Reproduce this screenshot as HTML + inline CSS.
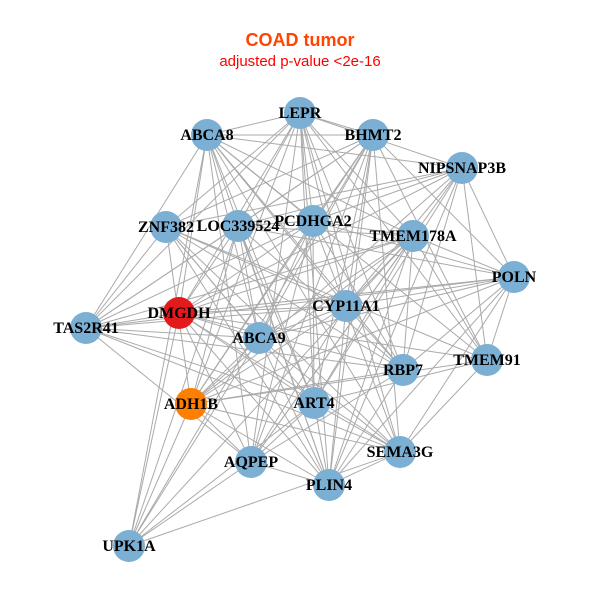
<!DOCTYPE html>
<html><head><meta charset="utf-8"><style>
body{margin:0;background:#fff;width:600px;height:600px;overflow:hidden}
svg text{font-family:"Liberation Serif",serif;font-weight:bold;font-size:16px}
</style></head><body>
<svg id="s" width="600" height="600" xmlns="http://www.w3.org/2000/svg">
<rect width="600" height="600" fill="#fff"/>
<text x="300" y="46" text-anchor="middle" style="font-family:'Liberation Sans',sans-serif;font-size:18px;font-weight:bold" fill="#FF4500">COAD tumor</text>
<text x="300" y="66" text-anchor="middle" style="font-family:'Liberation Sans',sans-serif;font-size:15px;font-weight:normal" fill="#FF0000">adjusted p-value &lt;2e-16</text>
<g id="e" stroke="#aaaaaa" stroke-width="1"></g>
<g id="n"></g>
</svg>
<script>
var N=[["LEPR",300,113],["ABCA8",207,135],["BHMT2",373,135],["NIPSNAP3B",462,168],["ZNF382",166,227],["LOC339524",238,226],["PCDHGA2",313,221],["TMEM178A",413,236],["POLN",514,277],["DMGDH",179,313],["TAS2R41",86,328],["CYP11A1",346,306],["ABCA9",259,338],["TMEM91",487,360],["RBP7",403,370],["ADH1B",191,404],["ART4",314,403],["SEMA3G",400,452],["AQPEP",251,462],["PLIN4",329,485],["UPK1A",129,546]];
var ns="http://www.w3.org/2000/svg",e=document.getElementById("e"),g=document.getElementById("n");
var seed=7;function r(){seed=(seed*9301+49297)%233280;return seed/233280;}
for(var i=0;i<N.length;i++)for(var j=i+1;j<N.length;j++){
 var a=N[i],b=N[j],d=Math.hypot(a[1]-b[1],a[2]-b[2]);
 var p=(a[0]=="UPK1A"||b[0]=="UPK1A")?0.45:0.72;
 if(d>380)p*=0.5;
 if(r()<p){var l=document.createElementNS(ns,"line");l.setAttribute("x1",a[1]);l.setAttribute("y1",a[2]);l.setAttribute("x2",b[1]);l.setAttribute("y2",b[2]);e.appendChild(l);}
}
N.forEach(function(a){
 var c=document.createElementNS(ns,"circle");c.setAttribute("cx",a[1]);c.setAttribute("cy",a[2]);c.setAttribute("r",16);
 c.setAttribute("fill",a[0]=="DMGDH"?"#E31A1C":a[0]=="ADH1B"?"#FF7F00":"#7BAFD4");g.appendChild(c);
});
N.forEach(function(a){
 var t=document.createElementNS(ns,"text");t.setAttribute("x",a[1]);t.setAttribute("y",a[2]+5);t.setAttribute("text-anchor","middle");t.textContent=a[0];g.appendChild(t);
});
</script>
</body></html>
